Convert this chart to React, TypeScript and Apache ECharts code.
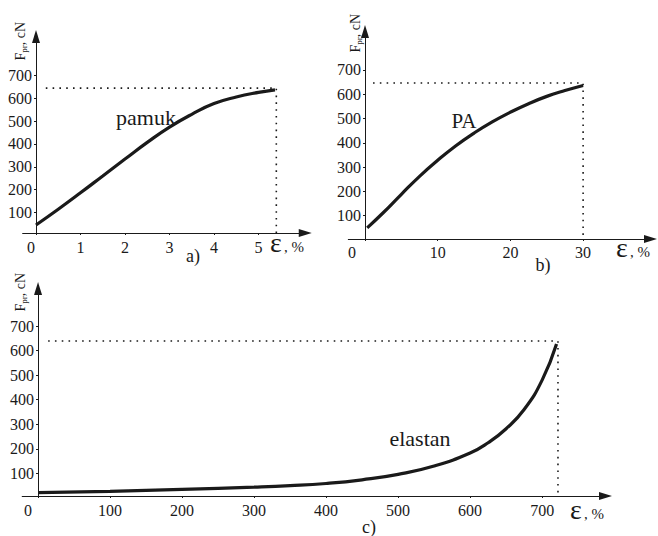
import React, { useEffect, useRef } from 'react';
import * as echarts from 'echarts';

const FONT = 'Liberation Serif';
const INK = '#1a1a1a';

// a) pamuk
const strainA = [0, 0.5, 1, 1.5, 2, 2.5, 3, 3.5, 4, 4.5, 5, 5.37];
const forceA = [45, 114, 186, 260, 334, 407, 474, 530, 577, 606, 626, 637];
const xTicksA = [0, 1, 2, 3, 4, 5];
const refA = [0.22, 5.4, 645]; // dotted line: x start, x corner, y level

// b) PA
const strainB = [0.3, 2.5, 5, 7.5, 10, 12.5, 15, 17.5, 20, 22.5, 25, 27.5, 30];
const forceB = [50, 112, 188, 262, 328, 388, 440, 486, 526, 561, 591, 615, 636];
const xTicksB = [0, 10, 20, 30];
const refB = [1.1, 30, 646];

// c) elastan
const strainC = [0, 100, 200, 300, 350, 400, 450, 500, 550, 600, 625, 650, 675, 700, 720];
const forceC = [22, 27, 35, 44, 50, 59, 74, 96, 130, 183, 225, 282, 360, 480, 627];
const xTicksC = [0, 100, 200, 300, 400, 500, 600, 700];
const refC = [14, 722, 639];

const yTicks = [100, 200, 300, 400, 500, 600, 700];
const seriesNames = ['pamuk', 'PA', 'elastan'];
const panelNames = ['a)', 'b)', 'c)'];

const panels = [
  { grid: { left: 22.65, top: 36.5, width: 282.6, height: 196.5 }, x: [-0.3, 6.05], y: [10, 871], xs: strainA, ys: forceA, xt: xTicksA, ref: refA, zeroShift: 5, labGap: 6.4,
    yName: [20, 41], eps: [270, 242], name: [146, 117, 22], tag: [193, 256] },
  { grid: { left: 348.3, top: 31.5, width: 302.2, height: 207.5 }, x: [-2.3, 39.27], y: [4, 858], xs: strainB, ys: forceB, xt: xTicksB, ref: refB, zeroShift: 13, labGap: 5.6,
    yName: [355, 33], eps: [616, 247], name: [464, 121, 21], tag: [543, 265] },
  { grid: { left: 22.2, top: 288.5, width: 583.3, height: 207.5 }, x: [-22, 788], y: [8, 853], xs: strainC, ys: forceC, xt: xTicksC, ref: refC, zeroShift: 10, labGap: 6.4,
    yName: [20, 292], eps: [570, 509], name: [420, 438, 22], tag: [369, 527] },
];

const axisLine = { lineStyle: { color: INK, width: 1 }, symbol: ['none', 'triangle'], symbolSize: [8, 13] };

function t(text: string, x: number, y: number, size: number, align = 'center', vAlign = 'middle') {
  return { type: 'text', x, y, style: { text, fontFamily: FONT, fontSize: size, fill: INK, align, verticalAlign: vAlign } };
}

function yName(x: number, y: number) {
  // rotated "F_pr, cN", reading bottom to top
  return {
    type: 'group', x, y, rotation: Math.PI / 2,
    children: [
      t('F', -19.5, 0, 14, 'left'),
      t('pr', -11.8, 3.5, 9, 'left'),
      t(', cN', -4.2, 0, 14, 'left'),
    ],
  };
}
function epsLabel(x: number, y: number) {
  return [t('ε', x, y, 28, 'left'), t(', %', x + 14, y + 4.5, 15, 'left')];
}

export default function App() {
  const ref = useRef<HTMLDivElement>(null);
  useEffect(() => {
    const chart = echarts.init(ref.current!, null, { renderer: 'svg' });
    const option: any = {
      animation: false,
      backgroundColor: '#ffffff',
      grid: panels.map((p) => ({ ...p.grid, containLabel: false })),
      xAxis: panels.map((p, i) => ({
        type: 'value', gridIndex: i, min: p.x[0], max: p.x[1],
        axisLine: { ...axisLine, onZero: false },
        splitLine: { show: false },
        axisTick: { show: true, length: 2, lineStyle: { color: INK }, customValues: p.xt },
        axisLabel: { show: false },
      })),
      yAxis: panels.map((p, i) => ({
        type: 'value', gridIndex: i, min: p.y[0], max: p.y[1],
        axisLine: { ...axisLine, onZero: true },
        splitLine: { show: false },
        axisTick: { show: true, length: 2, lineStyle: { color: INK }, customValues: yTicks },
        axisLabel: { show: false },
      })),
      series: panels.flatMap((p, i) => [
        {
          type: 'line', name: seriesNames[i], xAxisIndex: i, yAxisIndex: i, smooth: 0.5, symbol: 'none',
          data: p.xs.map((x, k) => [x, p.ys[k]]),
          lineStyle: { color: INK, width: 3.2 },
        },
        {
          type: 'line', xAxisIndex: i, yAxisIndex: i, symbol: 'none',
          data: [[p.ref[0], p.ref[2]], [p.ref[1], p.ref[2]], [p.ref[1], p.y[0]]],
          lineStyle: { color: INK, width: 1.6, type: [1.6, 5.2] },
        },
      ]),
    };
    chart.setOption(option);

    // tick labels placed through the axes' own scales
    const graphics: any[] = [];
    panels.forEach((p, i) => {
      p.xt.forEach((v) => {
        const pt = chart.convertToPixel({ gridIndex: i }, [v, p.y[0]]) as number[];
        graphics.push(t(String(v), pt[0] - (v === 0 ? p.zeroShift : 0), pt[1] + p.labGap, 16, 'center', 'top'));
      });
      yTicks.forEach((v) => {
        const pt = chart.convertToPixel({ gridIndex: i }, [0, v]) as number[];
        graphics.push(t(String(v), pt[0] - 4, pt[1], 16, 'right', 'middle'));
      });
      graphics.push(yName(p.yName[0], p.yName[1]));
      graphics.push(...epsLabel(p.eps[0], p.eps[1]));
      graphics.push(t(seriesNames[i], p.name[0], p.name[1], p.name[2]));
      graphics.push(t(panelNames[i], p.tag[0], p.tag[1], 18));
    });
    chart.setOption({ graphic: graphics });
    return () => chart.dispose();
  }, []);
  return <div ref={ref} style={{ position: 'absolute', left: 0, top: 0, width: 658, height: 536 }} />;
}
